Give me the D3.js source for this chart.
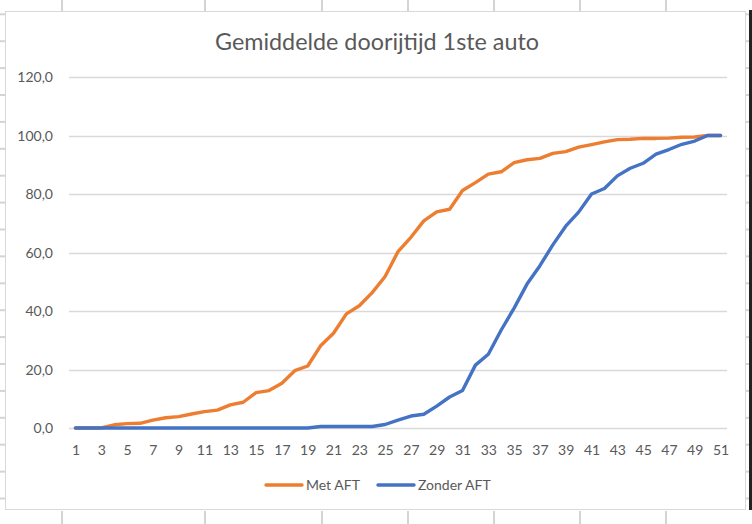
<!DOCTYPE html>
<html><head><meta charset="utf-8">
<script src="https://cdn.jsdelivr.net/npm/d3@7"></script>
<style>html,body{margin:0;padding:0;background:#fff;}svg{display:block;}</style>
</head><body>
<script>
const categories = d3.range(1, 52);
const metAFT = [0,0,0,1.1,1.5,1.6,2.7,3.5,3.9,4.8,5.6,6.1,7.9,8.8,12.1,12.8,15.3,19.6,21.2,28.1,32.4,39,41.8,46.3,51.8,60.3,65.2,70.8,73.9,74.8,81.2,83.9,86.8,87.6,90.7,91.7,92.2,93.9,94.5,96,96.9,97.8,98.6,98.7,99,99,99.1,99.4,99.5,100,100];
const zonderAFT = [0,0,0,0,0,0,0,0,0,0,0,0,0,0,0,0,0,0,0,0.5,0.5,0.5,0.5,0.5,1.2,2.7,4.1,4.7,7.5,10.6,12.8,21.5,25.2,33.5,41,49.2,55.5,62.6,69,73.8,80,81.9,86.2,88.8,90.5,93.6,95.2,97,98.1,100,100];
const yTicks = [0,20,40,60,80,100,120];
const seriesNames = ["Met AFT","Zonder AFT"];
const colors = ["#ED7D31","#4472C4"];
const title = "Gemiddelde doorijtijd 1ste auto";

const W = 752, H = 524;
const svg = d3.select("body").append("svg").attr("width", W).attr("height", H);
const font = "Lato, 'Open Sans', sans-serif";

// spreadsheet background grid (decoration)
const sheet = svg.append("g").attr("stroke", "#d4d4d4").attr("stroke-width", 2);
[62,205,322,408,494,580,666].forEach(x => {
  sheet.append("line").attr("x1", x).attr("x2", x).attr("y1", 0).attr("y2", 11);
  sheet.append("line").attr("x1", x).attr("x2", x).attr("y1", 511).attr("y2", H);
});
for (let k = -3; k <= 15; k++) {
  const y = 95 + 26.9 * k;
  sheet.append("line").attr("x1", 0).attr("x2", 5).attr("y1", y).attr("y2", y);
  sheet.append("line").attr("x1", 746).attr("x2", 750).attr("y1", y).attr("y2", y);
}
// chart area
svg.append("rect").attr("x", 5.5).attr("y", 11.5).attr("width", 740).attr("height", 498)
  .attr("fill", "#fff").attr("stroke", "#d9d9d9").attr("stroke-width", 1);
svg.append("rect").attr("x", 749).attr("y", 10).attr("width", 3).attr("height", 500).attr("fill", "#222");

const x = d3.scalePoint().domain(categories).range([69, 727]).padding(0.5);
const y = d3.scaleLinear().domain([0, 120]).range([428, 77]);

// gridlines
svg.append("g").selectAll("line").data(yTicks).join("line")
  .attr("x1", 69).attr("x2", 727)
  .attr("y1", d => Math.round(y(d)) + 0.5).attr("y2", d => Math.round(y(d)) + 0.5)
  .attr("stroke", "#d9d9d9").attr("stroke-width", 1.5);

// y axis
const fmt = d => d3.format(".1f")(d).replace(".", ",");
const yAxis = d3.axisLeft(y).tickValues(yTicks).tickFormat(fmt).tickSize(0).tickPadding(0);
const gy = svg.append("g").attr("transform", "translate(53,0)").call(yAxis);
gy.select(".domain").remove();
gy.selectAll("text").attr("font-family", font).attr("font-size", 14).attr("fill", "#595959").attr("dy", "0.35em");

// x axis
const xAxis = d3.axisBottom(x).tickValues(categories.filter(d => d % 2 === 1)).tickSize(0).tickPadding(0);
const gx = svg.append("g").attr("transform", "translate(0,445)").call(xAxis);
gx.select(".domain").remove();
gx.selectAll("text").attr("font-family", font).attr("font-size", 14).attr("fill", "#595959").attr("dy", "0.71em");

// lines
const line = d3.line().x((d, i) => x(categories[i])).y(d => y(d));
[metAFT, zonderAFT].forEach((s, i) => {
  svg.append("path").datum(s).attr("d", line).attr("fill", "none")
    .attr("stroke", colors[i]).attr("stroke-width", 3.4)
    .attr("stroke-linejoin", "round").attr("stroke-linecap", "round");
});

// title
svg.append("text").attr("x", 377).attr("y", 50).attr("text-anchor", "middle")
  .attr("font-family", font).attr("font-size", 22.5).attr("fill", "#595959")
  .attr("textLength", 324).attr("lengthAdjust", "spacingAndGlyphs").text(title);

// legend
const legendX = [266, 378];
const lg = svg.append("g");
seriesNames.forEach((n, i) => {
  lg.append("line").attr("x1", legendX[i]).attr("x2", legendX[i] + 36).attr("y1", 485).attr("y2", 485)
    .attr("stroke", colors[i]).attr("stroke-width", 3.4).attr("stroke-linecap", "round");
  lg.append("text").attr("x", legendX[i] + 40).attr("y", 485).attr("dy", "0.35em")
    .attr("font-family", font).attr("font-size", 14).attr("fill", "#595959").text(n);
});
</script>
</body></html>
